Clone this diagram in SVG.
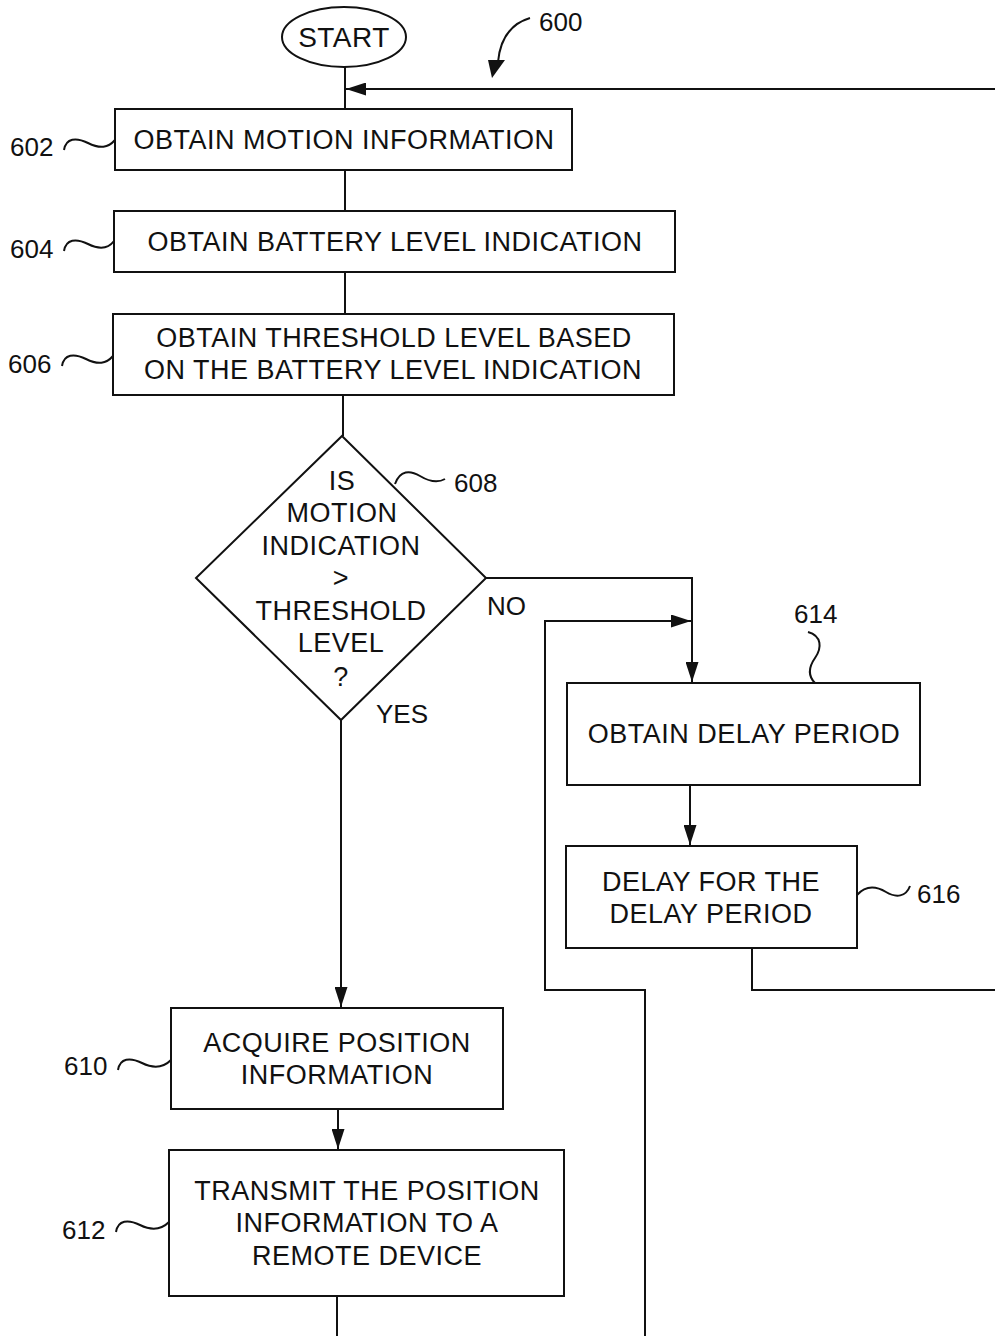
<svg xmlns="http://www.w3.org/2000/svg" width="995" height="1336" viewBox="0 0 995 1336">
<style>
.box{fill:#fff;stroke:#111;stroke-width:2}
.ln{fill:none;stroke:#111;stroke-width:2}
.t{font-family:"Liberation Sans",Arial,sans-serif;font-size:27px;letter-spacing:0.5px;fill:#111;text-anchor:middle}
.lb{font-family:"Liberation Sans",Arial,sans-serif;font-size:26px;fill:#111}
</style>
<defs>
<marker id="ah" viewBox="0 0 20 13" refX="20" refY="6.5" markerWidth="20" markerHeight="13" markerUnits="userSpaceOnUse" orient="auto">
<path d="M0,0 L20,6.5 L0,13 Z" fill="#111"/>
</marker>
</defs>
<rect width="995" height="1336" fill="#fff"/>
<g id="connectors">
<line class="ln" x1="345" y1="67" x2="345" y2="109"/>
<line class="ln" x1="995" y1="89" x2="346" y2="89" marker-end="url(#ah)"/>
<line class="ln" x1="345" y1="170" x2="345" y2="211"/>
<line class="ln" x1="345" y1="272" x2="345" y2="314"/>
<line class="ln" x1="343" y1="395" x2="343" y2="436"/>
<polyline class="ln" points="486,578 692,578 692,682" marker-end="url(#ah)"/>
<polyline class="ln" points="645,1336 645,990 545,990 545,621 691,621" marker-end="url(#ah)"/>
<line class="ln" x1="690" y1="785" x2="690" y2="845" marker-end="url(#ah)"/>
<polyline class="ln" points="752,948 752,990 995,990"/>
<line class="ln" x1="341" y1="720" x2="341" y2="1007" marker-end="url(#ah)"/>
<line class="ln" x1="338" y1="1109" x2="338" y2="1149" marker-end="url(#ah)"/>
<line class="ln" x1="337" y1="1296" x2="337" y2="1336"/>
</g>
<g id="ref600">
<text class="lb" x="539" y="31">600</text>
<path class="ln" d="M530,18 C510,24 500,40 498,62"/>
<path d="M488,60 L505,60 L492,78 Z" fill="#111"/>
</g>
<g id="start">
<ellipse class="box" cx="344" cy="37" rx="62" ry="30"/>
<text class="t" x="344" y="47" style="font-size:28px">START</text>
</g>
<g id="n602">
<rect class="box" x="115" y="109" width="457" height="61"/>
<text class="t" x="344" y="149">OBTAIN MOTION INFORMATION</text>
<text class="lb" x="10" y="156">602</text>
<path class="ln" d="M64,150 C66,138 76,137 88,143 C100,149 108,148 115,140"/>
</g>
<g id="n604">
<rect class="box" x="114" y="211" width="561" height="61"/>
<text class="t" x="395" y="251">OBTAIN BATTERY LEVEL INDICATION</text>
<text class="lb" x="10" y="258">604</text>
<path class="ln" d="M64,251 C66,239 76,238 88,244 C100,250 108,249 114,241"/>
</g>
<g id="n606">
<rect class="box" x="113" y="314" width="561" height="81"/>
<text class="t" x="394" y="347">OBTAIN THRESHOLD LEVEL BASED</text>
<text class="t" x="393" y="379">ON THE BATTERY LEVEL INDICATION</text>
<text class="lb" x="8" y="373">606</text>
<path class="ln" d="M62,366 C64,354 74,353 86,359 C98,365 106,364 113,356"/>
</g>
<g id="n608">
<polygon class="box" points="342,436 486,578 341,720 196,578"/>
<text class="t" x="342" y="490">IS</text>
<text class="t" x="342" y="522">MOTION</text>
<text class="t" x="341" y="555">INDICATION</text>
<text class="t" x="341" y="587">&gt;</text>
<text class="t" x="341" y="620">THRESHOLD</text>
<text class="t" x="341" y="652">LEVEL</text>
<text class="t" x="341" y="686">?</text>
<text class="lb" x="454" y="492">608</text>
<path class="ln" d="M395,484 C400,470 410,470 420,476 C430,482 438,483 445,479"/>
<text class="lb" x="487" y="615">NO</text>
<text class="lb" x="376" y="723">YES</text>
</g>
<g id="n614">
<rect class="box" x="567" y="683" width="353" height="102"/>
<text class="t" x="744" y="743">OBTAIN DELAY PERIOD</text>
<text class="lb" x="794" y="623">614</text>
<path class="ln" d="M808,632 C822,636 822,648 815,658 C808,668 808,676 815,683"/>
</g>
<g id="n616">
<rect class="box" x="566" y="846" width="291" height="102"/>
<text class="t" x="711" y="891">DELAY FOR THE</text>
<text class="t" x="711" y="923">DELAY PERIOD</text>
<text class="lb" x="917" y="903">616</text>
<path class="ln" d="M857,895 C866,885 876,886 886,892 C896,898 906,897 910,886"/>
</g>
<g id="n610">
<rect class="box" x="171" y="1008" width="332" height="101"/>
<text class="t" x="337" y="1052">ACQUIRE POSITION</text>
<text class="t" x="337" y="1084">INFORMATION</text>
<text class="lb" x="64" y="1075">610</text>
<path class="ln" d="M118,1070 C120,1058 130,1057 142,1063 C154,1069 163,1068 171,1060"/>
</g>
<g id="n612">
<rect class="box" x="169" y="1150" width="395" height="146"/>
<text class="t" x="367" y="1200">TRANSMIT THE POSITION</text>
<text class="t" x="367" y="1232">INFORMATION TO A</text>
<text class="t" x="367" y="1265">REMOTE DEVICE</text>
<text class="lb" x="62" y="1239">612</text>
<path class="ln" d="M116,1232 C118,1220 128,1219 140,1225 C152,1231 161,1230 169,1222"/>
</g>
</svg>
